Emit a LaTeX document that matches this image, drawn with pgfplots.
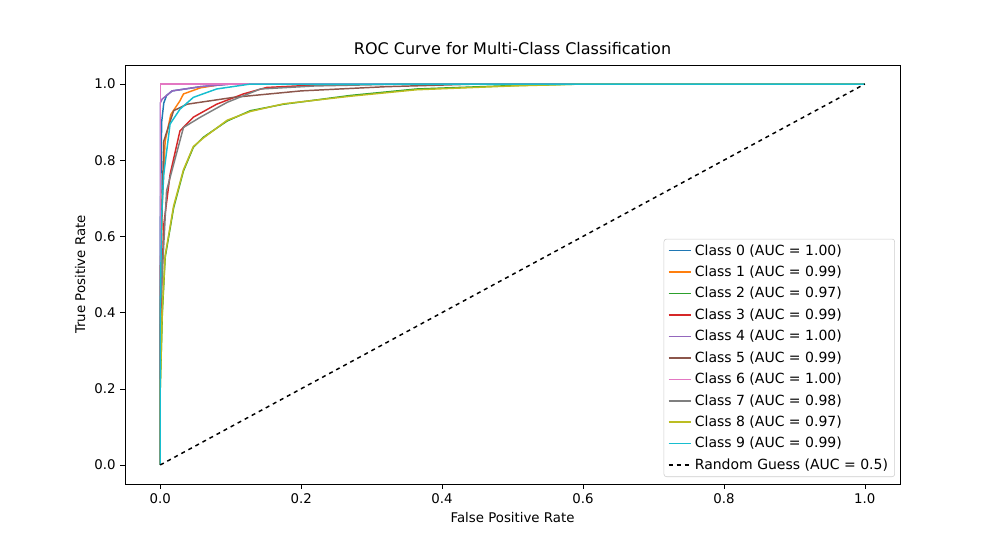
\documentclass[border=0pt]{standalone}
\usepackage{pgfplots}
\pgfplotsset{compat=1.18}
\usepackage{fontspec}
\setmainfont{DejaVu Sans}
\definecolor{c0}{HTML}{1F77B4}\definecolor{c1}{HTML}{FF7F0E}\definecolor{c2}{HTML}{2CA02C}
\definecolor{c3}{HTML}{D62728}\definecolor{c4}{HTML}{9467BD}\definecolor{c5}{HTML}{8C564B}
\definecolor{c6}{HTML}{E377C2}\definecolor{c7}{HTML}{7F7F7F}\definecolor{c8}{HTML}{BCBD22}
\definecolor{c9}{HTML}{17BECF}
\begin{document}
\fontsize{10}{12}\selectfont
\begin{tikzpicture}
\begin{axis}[scale only axis, width=581.25pt, height=314.25pt,
 xmin=-0.05,xmax=1.05,ymin=-0.05,ymax=1.05,
 xtick={0,0.2,0.4,0.6,0.8,1.0}, ytick={0,0.2,0.4,0.6,0.8,1.0},
 xticklabel style={/pgf/number format/.cd,fixed,fixed zerofill,precision=1},
 yticklabel style={/pgf/number format/.cd,fixed,fixed zerofill,precision=1},
 /pgf/number format/assume math mode=true,
 tick align=outside, tick style={black}, major tick length=3.5pt,
 xtick pos=bottom, ytick pos=left,
 title={ROC Curve for Multi-Class Classification}, title style={font=\fontsize{12}{14}\selectfont, yshift=-2pt},
 xlabel={False Positive Rate}, ylabel={True Positive Rate},
 every axis plot/.append style={line width=1.1pt},
 legend style={at={(0.9935,0.0167)},anchor=south east, draw=black!20, rounded corners=2pt, font=\fontsize{10.5}{12.5}\selectfont, row sep=2.6pt},
 legend cell align=left, clip=false]
\path[use as bounding box] (axis description cs:-0.1613,-0.1432) rectangle (axis description cs:1.1290,1.1551);
\addplot[c0] coordinates {(0,0)(0,0.6)(0.002,0.9)(0.005,0.95)(0.009,0.97)(0.017,0.982)(0.057,0.993)(0.1,1)(1,1)};
\addlegendentry{Class 0 (AUC = 1.00)}
\addplot[c1] coordinates {(0,0)(0,0.4)(0.003,0.7)(0.007,0.85)(0.015,0.92)(0.028,0.956)(0.033,0.974)(0.057,0.99)(0.09,1)(1,1)};
\addlegendentry{Class 1 (AUC = 0.99)}
\addplot[c2] coordinates {(0,0)(0,0.2)(0.003,0.4)(0.007,0.545)(0.019,0.675)(0.033,0.772)(0.047,0.834)(0.061,0.86)(0.095,0.903)(0.128,0.93)(0.175,0.947)(0.27,0.97)(0.364,0.987)(0.5,0.996)(0.6,1)(1,1)};
\addlegendentry{Class 2 (AUC = 0.97)}
\addplot[c3] coordinates {(0,0)(0,0.35)(0.005,0.63)(0.014,0.763)(0.028,0.877)(0.047,0.913)(0.08,0.947)(0.118,0.974)(0.151,0.991)(0.25,1)(1,1)};
\addlegendentry{Class 3 (AUC = 0.99)}
\addplot[c4] coordinates {(0,0)(0,0.95)(0.003,0.961)(0.017,0.982)(0.057,0.993)(0.1,1)(1,1)};
\addlegendentry{Class 4 (AUC = 1.00)}
\addplot[c5] coordinates {(0,0)(0,0.5)(0.005,0.85)(0.019,0.93)(0.038,0.947)(0.104,0.965)(0.2,0.982)(0.32,0.993)(0.45,1)(1,1)};
\addlegendentry{Class 5 (AUC = 0.99)}
\addplot[c6] coordinates {(0,0)(0,1)(1,1)};
\addlegendentry{Class 6 (AUC = 1.00)}
\addplot[c7] coordinates {(0,0)(0,0.4)(0.009,0.72)(0.033,0.886)(0.057,0.913)(0.095,0.952)(0.142,0.987)(0.22,0.995)(0.35,1)(1,1)};
\addlegendentry{Class 7 (AUC = 0.98)}
\addplot[c8] coordinates {(0,0)(0,0.2)(0.003,0.41)(0.007,0.55)(0.019,0.68)(0.033,0.775)(0.047,0.836)(0.061,0.858)(0.095,0.905)(0.128,0.928)(0.175,0.948)(0.27,0.968)(0.364,0.985)(0.5,0.995)(0.6,1)(1,1)};
\addlegendentry{Class 8 (AUC = 0.97)}
\addplot[c9] coordinates {(0,0)(0,0.4)(0.002,0.65)(0.005,0.763)(0.014,0.895)(0.028,0.934)(0.047,0.965)(0.08,0.987)(0.128,1)(1,1)};
\addlegendentry{Class 9 (AUC = 0.99)}
\addplot[black, dashed, line width=1.1pt] coordinates {(0,0)(1,1)};
\addlegendentry{Random Guess (AUC = 0.5)}
\end{axis}
\end{tikzpicture}
\end{document}
